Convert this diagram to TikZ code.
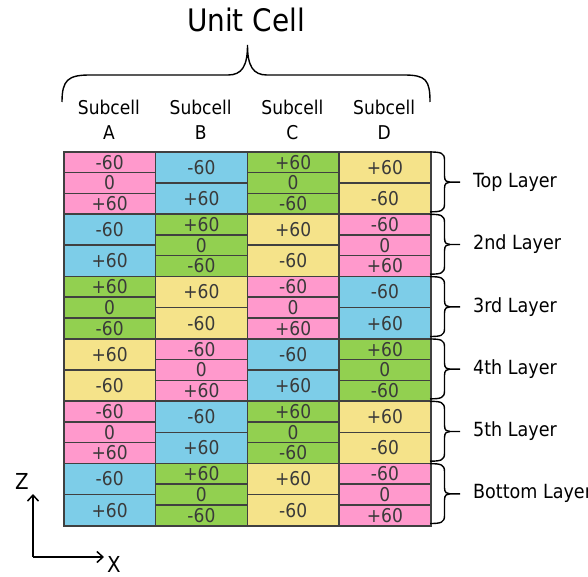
\documentclass[tikz,border=0pt]{standalone}
\usepackage{fontspec}
\setmainfont{DejaVu Sans Condensed}
\usetikzlibrary{arrows.meta}
\definecolor{cpink}{HTML}{FF99CC}
\definecolor{cblue}{HTML}{7DCDE8}
\definecolor{cgreen}{HTML}{92D050}
\definecolor{cyellow}{HTML}{F5E38A}
\definecolor{cborder}{HTML}{404040}
\definecolor{ctext}{HTML}{3A3A3A}
\tikzset{
  cell/.style={draw=cborder, line width=1.6pt, minimum width=91.75pt, inner sep=0pt, text=ctext, anchor=north west, font=\fontsize{19}{21}\selectfont},
  brace/.style={draw=black, line width=1.4pt},
  lbl/.style={inner sep=0pt, text=black, font=\fontsize{19.5}{22}\selectfont},
  axis/.style={line width=1.5pt, -{Straight Barb[length=6pt,width=11pt,line width=1.5pt]}}
}
\newcommand\mygroup[5]{%
  \pgfmathsetmacro\hh{62.333/#4}%
  \foreach \v [count=\k from 0] in {#5} {
    \node[cell, fill=#3, minimum height=\hh pt] (c-#1-#2-\k) at ({63+#2*91.75}, {151+#1*62.333+\k*\hh}) {\v};
  }%
}
\begin{document}
\begin{tikzpicture}[x=1pt,y=-1pt]
\useasboundingbox (0,0) rectangle (588,577);
\clip (0,0) rectangle (588,577);
% grid
\foreach \i in {0,...,5} {
  \foreach \j in {0,...,3} {
    \pgfmathtruncatemacro\t{mod(\i+\j,4)}
    \ifcase\t
      \mygroup{\i}{\j}{cpink}{3}{-60,0,+60}
    \or
      \mygroup{\i}{\j}{cblue}{2}{-60,+60}
    \or
      \mygroup{\i}{\j}{cgreen}{3}{+60,0,-60}
    \or
      \mygroup{\i}{\j}{cyellow}{2}{+60,-60}
    \fi
  }
}
% titles
\node[lbl, font=\fontsize{31}{36}\selectfont] (title) at (246,20) {Unit Cell};
\foreach \n [count=\j from 0] in {A,B,C,D} {
  \node[lbl, align=center, font=\fontsize{19}{25}\selectfont] (sub\n) at ({108.9+\j*91.75},120) {Subcell\\\n};
}
% top brace
\coordinate (tbL) at (62,102);
\coordinate (tbR) at (430,102);
\coordinate (tbT) at (247.5,45);
\draw[brace] (tbL) .. controls (62,80) and (68,75) .. (90,75) -- (228,75)
  .. controls (242,75) and (247.5,66) .. (tbT)
  .. controls (247.5,66) and (253,75) .. (267,75) -- (404,75)
  .. controls (426,75) and (430,80) .. (tbR);
% right braces
\foreach \name [count=\i from 0] in {Top Layer,2nd Layer,3rd Layer,4th Layer,5th Layer,Bottom Layer} {
  \pgfmathsetmacro\yt{151+\i*62.333+1}
  \pgfmathsetmacro\yb{151+(\i+1)*62.333-1.5}
  \pgfmathsetmacro\ym{151+(\i+0.5)*62.333}
  \coordinate (rb\i t) at (430,\yt);
  \coordinate (rb\i b) at (430,\yb);
  \coordinate (rb\i m) at (460,\ym);
  \draw[brace] (rb\i t) .. controls (441,\yt) and (444.5,\yt+1) .. (444.5,\yt+8)
    -- (444.5,\ym-6) .. controls (444.5,\ym-1) and (447,\ym) .. (450,\ym) -- (rb\i m);
  \draw[brace] (rb\i b) .. controls (441,\yb) and (444.5,\yb-1) .. (444.5,\yb-8)
    -- (444.5,\ym+6) .. controls (444.5,\ym+1) and (447,\ym) .. (450,\ym);
  \node[lbl, anchor=west] (lay\i) at (473,\ym) {\name};
}
% axes
\coordinate (o) at (33,557);
\coordinate (zt) at (33,494);
\coordinate (xt) at (104,557);
\draw[axis] (o) -- (zt);
\draw[axis] (o) -- (xt);
\node[lbl, font=\fontsize{22}{26}\selectfont] (zl) at (22,481) {Z};
\node[lbl, font=\fontsize{22}{26}\selectfont] (xl) at (114,564) {X};
\end{tikzpicture}
\end{document}
